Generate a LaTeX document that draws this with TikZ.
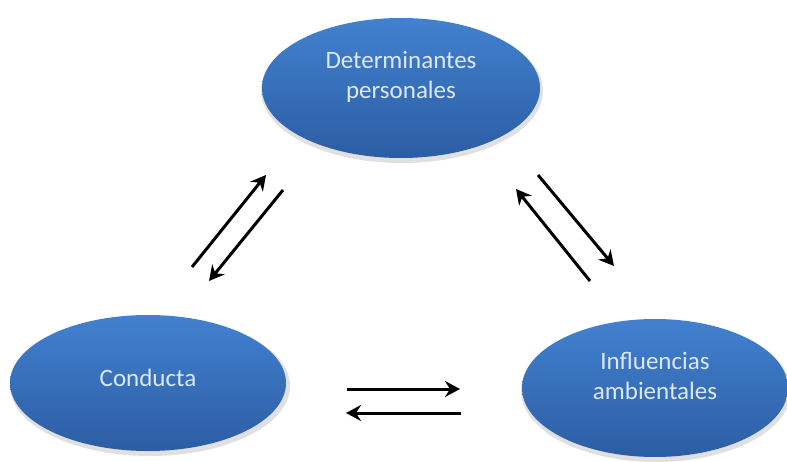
\documentclass[tikz,border=0pt]{standalone}
\usepackage{fontspec}
\setmainfont{Carlito}
\usetikzlibrary{shapes.geometric,arrows.meta}
\definecolor{eltop}{HTML}{4281D0}
\definecolor{elbot}{HTML}{2C5DA3}
\definecolor{eltext}{HTML}{DCE8F6}
\tikzset{
  ell/.style={ellipse, draw=none, top color=eltop, bottom color=elbot, inner sep=0pt},
  lbl/.style={text=eltext, font=\fontsize{25}{30}\selectfont, align=center, inner sep=0pt},
  arr/.style={line width=3pt, -{Stealth[length=15pt,width=16pt,inset=5pt]}}
}
\begin{document}
\begin{tikzpicture}[x=1pt,y=-1pt]
\useasboundingbox (0,0) rectangle (787,462);
% shadows
\fill[black!12] (402,91) ellipse [x radius=141, y radius=72];
\fill[black!12] (150,386) ellipse [x radius=140, y radius=70];
\fill[black!12] (656,391) ellipse [x radius=135, y radius=71];
\node[ell, minimum width=278pt, minimum height=140pt] (dp) at (401,88) {};
\node[ell, minimum width=276pt, minimum height=136pt] (co) at (148,383) {};
\node[ell, minimum width=266pt, minimum height=138pt] (ia) at (655,388) {};
\node[lbl] (dpt) at ([yshift=11pt]dp.center) {Determinantes\\personales};
\node[lbl] (cot) at ([yshift=5pt]co.center) {Conducta};
\node[lbl] (iat) at ([yshift=12pt]ia.center) {Influencias\\ambientales};
\coordinate (a1s) at (192,267); \coordinate (a1e) at (266,175);
\coordinate (a2s) at (283,190); \coordinate (a2e) at (209,281);
\coordinate (b1s) at (538,175); \coordinate (b1e) at (614,266);
\coordinate (b2s) at (590,281); \coordinate (b2e) at (516,189);
\coordinate (c1s) at (347,389); \coordinate (c1e) at (460,389);
\coordinate (c2s) at (461,413); \coordinate (c2e) at (346,413);
\draw[arr] (a1s) -- (a1e);
\draw[arr] (a2s) -- (a2e);
\draw[arr] (b1s) -- (b1e);
\draw[arr] (b2s) -- (b2e);
\draw[arr] (c1s) -- (c1e);
\draw[arr] (c2s) -- (c2e);
\end{tikzpicture}
\end{document}
